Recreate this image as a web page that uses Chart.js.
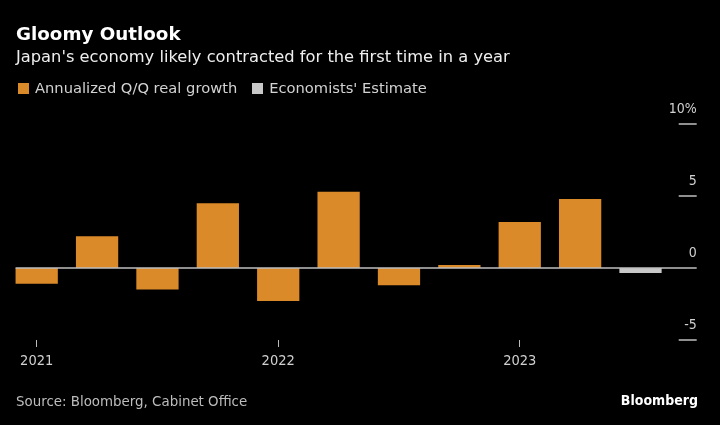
<!DOCTYPE html>
<html>
<head>
<meta charset="utf-8">
<script src="https://cdn.jsdelivr.net/npm/chart.js@4.4.1/dist/chart.umd.min.js"></script>
<style>
body{margin:0;background:#000;}
#wrap{position:relative;width:720px;height:425px;background:#000;font-family:"DejaVu Sans",sans-serif;}
#wrap canvas{position:absolute;left:0;top:0;}
.txt{position:absolute;white-space:nowrap;}
#title{left:16px;top:23px;font-size:18.3px;line-height:22px;font-weight:bold;color:#fff;}
#subtitle{left:16px;top:47px;font-size:16.3px;line-height:20px;color:#eeeeee;}
#legend{left:18px;top:79px;font-size:14.7px;line-height:18px;color:#d2d2d2;display:flex;}
#legend .item{display:flex;align-items:center;margin-right:15px;}
#legend i{display:inline-block;width:11px;height:11px;margin-right:6px;}
#source{left:16px;top:393px;font-size:13.4px;line-height:18px;color:#bdbdbd;}
#brand{right:22px;top:391px;font-size:14px;line-height:18px;font-weight:bold;color:#fff;font-family:"DejaVu Sans Condensed","DejaVu Sans",sans-serif;}
</style>
</head>
<body>
<div id="wrap">
<canvas id="gdpChart" width="720" height="425"></canvas>
<div class="txt" id="title">Gloomy Outlook</div>
<div class="txt" id="subtitle">Japan's economy likely contracted for the first time in a year</div>
<div class="txt" id="legend"></div>
<div class="txt" id="source">Source: Bloomberg, Cabinet Office</div>
<div class="txt" id="brand">Bloomberg</div>
</div>
<script>
/* ================================
   DATA
================================ */

const quarters = ["1Q21","2Q21","3Q21","4Q21","1Q22","2Q22","3Q22","4Q22","1Q23","2Q23","3Q23"]
const growth = [-1.1, 2.2, -1.5, 4.5, -2.3, 5.3, -1.2, 0.2, 3.2, 4.8, null]
const estimate = [null, null, null, null, null, null, null, null, null, null, -0.35]
const yearLabels = {"1Q21":"2021", "1Q22":"2022", "1Q23":"2023"}
const yTicks = [-5, 0, 5, 10]

const ORANGE = "#DB8A29"
const GREY = "#C8C8C8"

Chart.defaults.font.family = "'DejaVu Sans Condensed', 'DejaVu Sans', sans-serif"

/* ================================
   ZERO LINE + RIGHT TICK MARKS
================================ */

const axisMarks = {
id:"axisMarks",
afterDatasetsDraw(chart){
const {ctx, scales:{y}} = chart
const first = chart.getDatasetMeta(0).data[0]
const y0 = y.getPixelForValue(0)
ctx.save()
ctx.strokeStyle = "#bfbfbf"
ctx.lineWidth = 1.5
ctx.beginPath()
ctx.moveTo(first.x - first.width/2, y0)
ctx.lineTo(y.right, y0)
y.ticks.forEach(t=>{
const py = y.getPixelForValue(t.value)
ctx.moveTo(y.right - 18, py)
ctx.lineTo(y.right, py)
})
ctx.stroke()
ctx.restore()
}
}

/* ================================
   CHART
================================ */

const chart = new Chart(
document.getElementById("gdpChart"),
{
type:"bar",
data:{
labels:quarters,
datasets:[{
label:"Annualized Q/Q real growth",
data:growth,
backgroundColor:ORANGE,
borderWidth:0,
barPercentage:0.7,
categoryPercentage:1
},{
label:"Economists' Estimate",
data:estimate,
backgroundColor:GREY,
borderWidth:0,
barPercentage:0.7,
categoryPercentage:1
}]
},
options:{
responsive:false,
animation:false,
layout:{padding:{left:6.5, right:23.3, top:124, bottom:45}},
plugins:{
legend:{display:false},
tooltip:{enabled:false}
},
scales:{
x:{
stacked:true,
offset:true,
border:{display:false},
grid:{
offset:false,
drawOnChartArea:false,
drawTicks:true,
tickLength:7,
tickWidth:1,
tickColor:c=> yearLabels[quarters[c.index]] ? "#bbbbbb" : "rgba(0,0,0,0)"
},
ticks:{
autoSkip:false,
maxRotation:0,
padding:6,
color:"#d0d0d0",
font:{size:14.5},
callback:(v,i)=> yearLabels[quarters[i]] || ""
},
afterFit:s=>{ s.height = 40 }
},
y:{
position:"right",
stacked:true,
min:-5,
max:10,
border:{display:false},
grid:{display:false},
afterBuildTicks:s=>{ s.ticks = yTicks.map(v=>({value:v})) },
ticks:{
mirror:true,
padding:26,
labelOffset:-15,
color:"#d0d0d0",
font:{size:14},
callback:v=> v===10 ? "10%" : v
},
afterFit:s=>{ s.width = 26 }
}
}
},
plugins:[axisMarks]
})

/* ================================
   HTML LEGEND
================================ */

const legendBox = document.getElementById("legend")
Chart.defaults.plugins.legend.labels.generateLabels(chart).forEach(item=>{
const span = document.createElement("span")
span.className = "item"
const sw = document.createElement("i")
sw.style.background = item.fillStyle
span.appendChild(sw)
span.appendChild(document.createTextNode(item.text))
legendBox.appendChild(span)
})
</script>
</body>
</html>
